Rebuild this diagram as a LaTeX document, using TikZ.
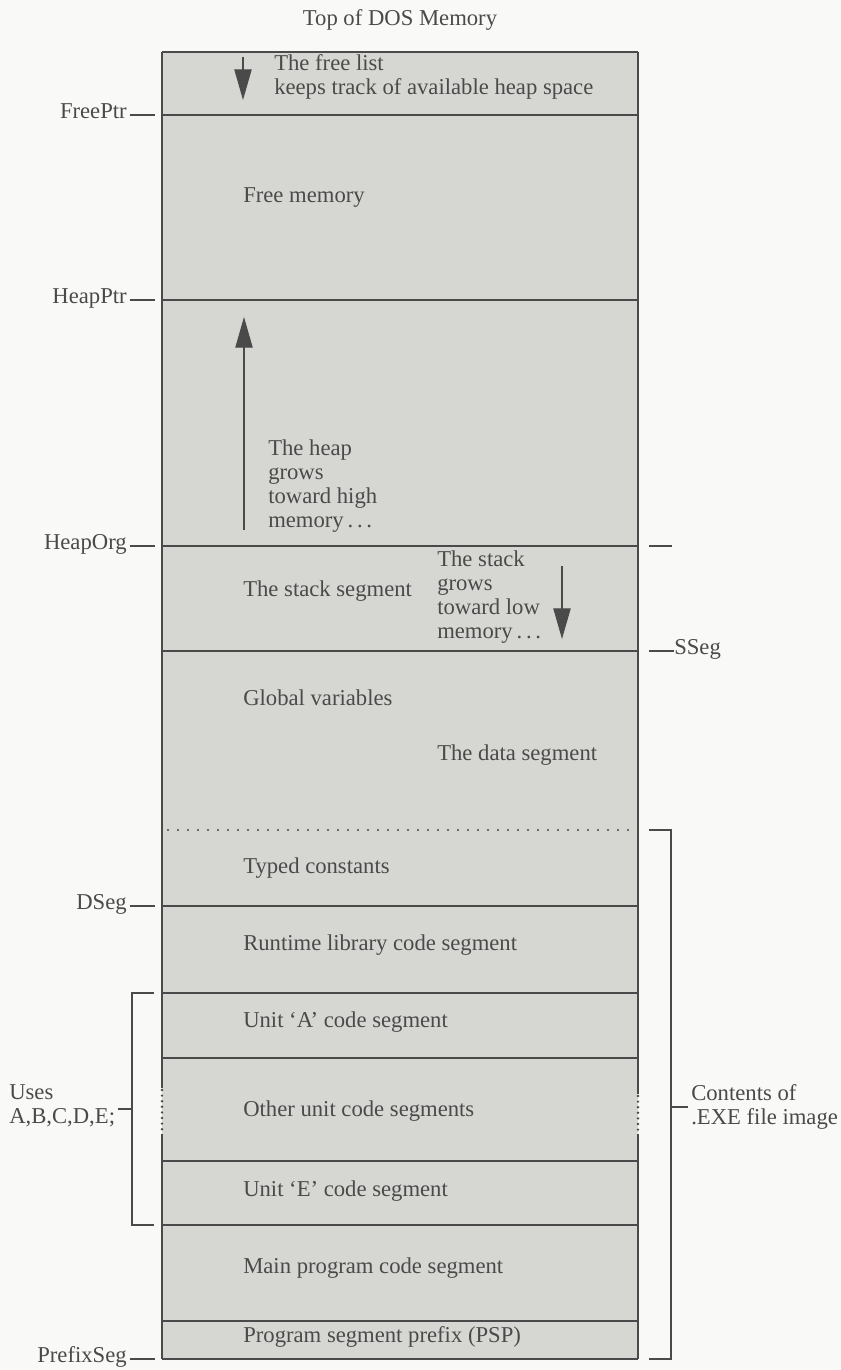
\documentclass[tikz,border=0pt]{standalone}
\usepackage{fontspec}
\setmainfont{Liberation Serif}
\usetikzlibrary{arrows.meta,positioning}
\definecolor{seggray}{RGB}{214,214,211}
\definecolor{inkgray}{RGB}{74,74,74}
\definecolor{paper}{RGB}{249,249,247}

\begin{document}
\begin{tikzpicture}[x=0.75pt,y=-0.75pt,>={Triangle[length=23pt,width=13pt]}]
  % Box edges (x) and font size
  \def\xl{162} % left edge of memory block
  \def\xr{638} % right edge of memory block
  \tikzset{
    seg/.style   = {anchor=west, inner sep=0pt, text=inkgray, font=\fontsize{17}{18}\selectfont, text height=0.72em, text depth=0.22em},
    note/.style  = {anchor=west, inner sep=0pt, text=inkgray, font=\fontsize{17}{18}\selectfont, align=left},
    ptr/.style   = {seg, anchor=east},
    rule/.style  = {draw=inkgray, line width=1.1pt},
    tick/.style  = {draw=inkgray, line width=0.9pt},
    growarrow/.style = {draw=inkgray, line width=0.8pt, ->},
    dots/.style  = {draw=inkgray, line width=1.7pt, line cap=round, dash pattern=on 0pt off 7.5pt},
    sidedots/.style = {draw=inkgray, line width=2pt, line cap=round, dash pattern=on 0pt off 4.2pt}
  }

  \useasboundingbox[fill=paper] (0,0) rectangle (841,1370);

  % --- The memory block ---
  \fill[seggray] (\xl,52) rectangle (\xr,1359);
  \draw[rule] (\xl,52) -- (\xr,52);
  \draw[rule] (\xl,1359) -- (\xr,1359);
  % segment boundaries
  \foreach \y in {115,300,546,651,906,993,1058,1161,1225,1321} {
    \draw[rule] (\xl,\y) -- (\xr,\y);
  }
  % side edges, broken by dots at the other unit segments
  \draw[rule] (\xl,52) -- (\xl,1088);
  \draw[rule] (\xl,1134) -- (\xl,1359);
  \draw[rule] (\xr,52) -- (\xr,1094);
  \draw[rule] (\xr,1134) -- (\xr,1359);
  \draw[sidedots] (\xl,1090) -- (\xl,1132);
  \draw[sidedots] (\xr,1096) -- (\xr,1132);
  % end of the data segment
  \draw[dots] (168,830) -- (634,830);

  % --- Title ---
  \node[seg, anchor=center] (title) at (400,22) {Top of DOS Memory};

  % --- Texts inside the block ---
  \node[note] (freelist) at (274,77) {The free list\\keeps track of available heap space};
  \node[seg] (freemem) at (243,199) {Free memory};
  \node[note] (heapgrow) at (268,486) {The heap\\grows\\toward high\\memory\,.\,.\,.};
  \node[seg] (stackseg) at (243,593) {The stack segment};
  \node[note] (stackgrow) at (437,597) {The stack\\grows\\toward low\\memory\,.\,.\,.};
  \node[seg] (globals) at (243,702) {Global variables};
  \node[seg] (dataseg) at (437,757) {The data segment};
  \node[seg] (typedc) at (243,870) {Typed constants};
  \node[seg] (rtl) at (243,947) {Runtime library code segment};
  \node[seg] (unita) at (243,1024) {Unit ‘A’ code segment};
  \node[seg] (units) at (243,1113) {Other unit code segments};
  \node[seg] (unite) at (243,1193) {Unit ‘E’ code segment};
  \node[seg] (mainseg) at (243,1270) {Main program code segment};
  \node[seg] (psp) at (243,1339) {Program segment prefix (PSP)};

  % --- Growth arrows ---
  \coordinate (fl-s) at (243,57);  \coordinate (fl-e) at (243,100);
  \coordinate (hp-s) at (244,530); \coordinate (hp-e) at (244,317);
  \coordinate (st-s) at (562,566); \coordinate (st-e) at (562,639);
  \draw[growarrow] (fl-s) -- (fl-e);
  \draw[growarrow] (hp-s) -- (hp-e);
  \draw[growarrow] (st-s) -- (st-e);

  % --- Pointer labels on the left ---
  \foreach \p/\t/\y in {freeptr/FreePtr/115, heapptr/HeapPtr/300, heaporg/HeapOrg/546, dseg/DSeg/906, prefixseg/PrefixSeg/1359} {
    \node[ptr] (\p) at (127,\y) {\t};
    \coordinate (\p-r) at (155,\y);
    \draw[tick] ([xshift=2pt]\p.east) -- (\p-r);
  }

  % --- Labels on the right ---
  \node[seg] (sseg) at (674,651) {SSeg};
  \coordinate (ss-a) at (649,651);
  \draw[tick] (ss-a) -- (sseg.west);
  \coordinate (ho-a) at (649,546);
  \coordinate (ho-b) at (672,546);
  \draw[tick] (ho-a) -- (ho-b);

  % --- Uses bracket ---
  \node[note] (uses) at (9,1106) {Uses\\A,B,C,D,E;};
  \coordinate (ub-t) at (154,993);
  \coordinate (ub-b) at (154,1225);
  \coordinate (ub-m) at (132,1109);
  \draw[tick] (ub-t) -- (ub-t -| ub-m) -- (ub-b -| ub-m) -- (ub-b);
  \draw[tick] ([xshift=2pt]ub-m -| uses.east) -- (ub-m);

  % --- Contents of .EXE bracket ---
  \node[note] (exe) at (691,1107) {Contents of\\.EXE file image};
  \coordinate (cb-t) at (649,830);
  \coordinate (cb-b) at (649,1359);
  \coordinate (cb-m) at (671,1107);
  \draw[tick] (cb-t) -- (cb-t -| cb-m) -- (cb-b -| cb-m) -- (cb-b);
  \draw[tick] (cb-m) -- ([xshift=-2pt]cb-m -| exe.west);
\end{tikzpicture}
\end{document}
